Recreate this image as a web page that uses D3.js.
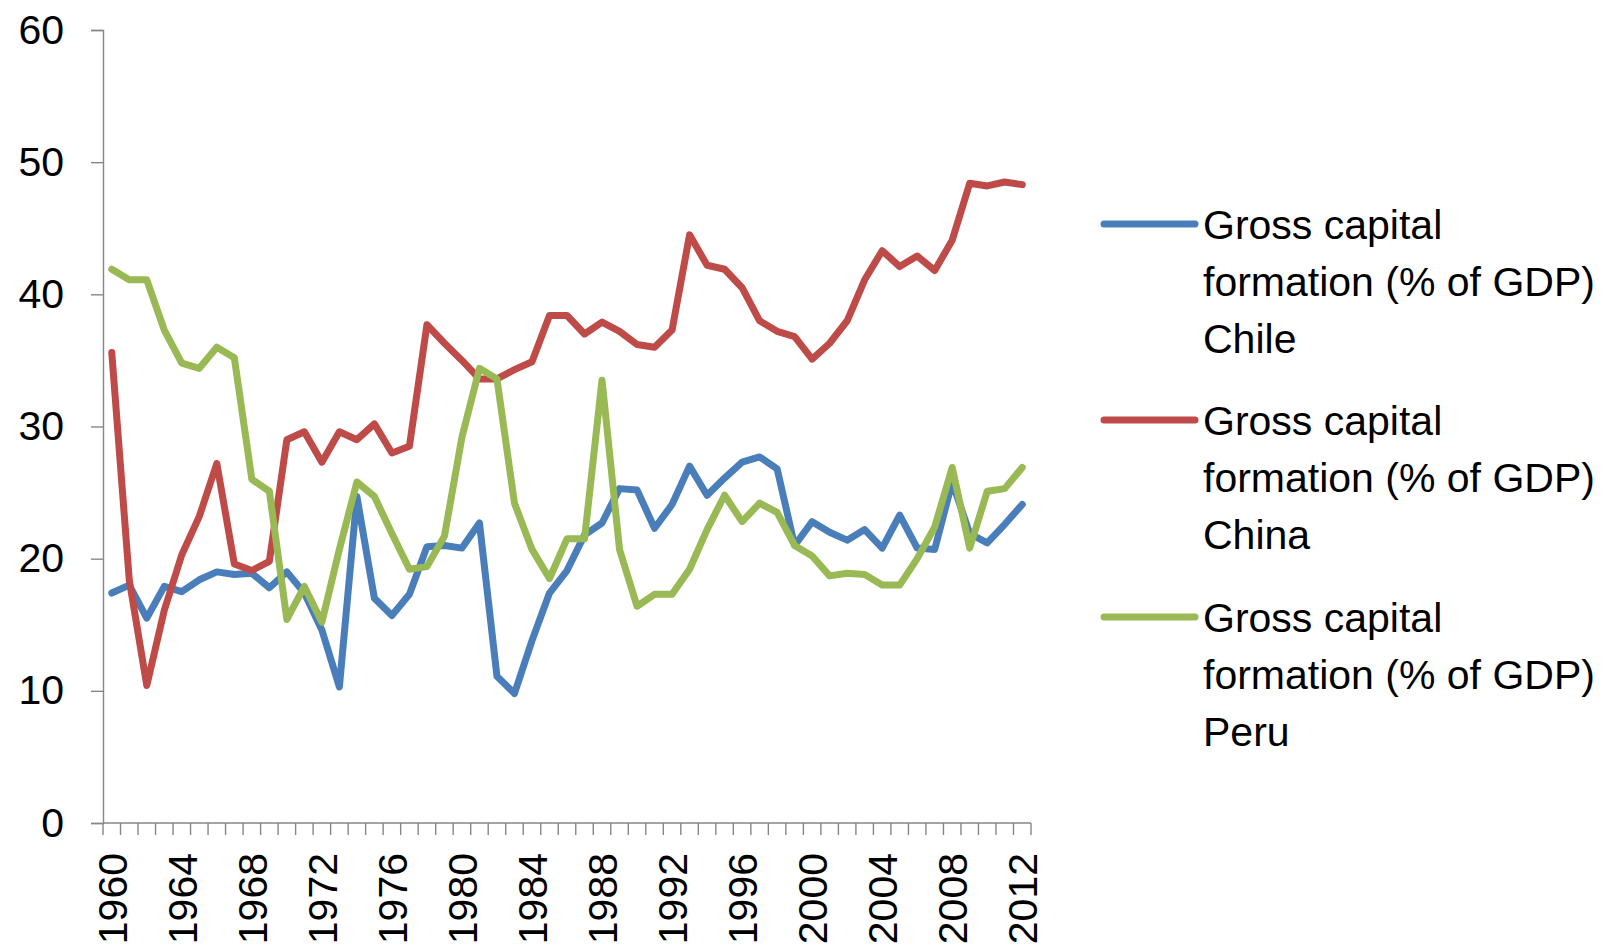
<!DOCTYPE html>
<html>
<head>
<meta charset="utf-8">
<script src="https://cdn.jsdelivr.net/npm/d3@7"></script>
<style>
  html, body { margin: 0; padding: 0; background: #fff; }
  svg text { font-family: "Liberation Sans", Arial, sans-serif; fill: #000; }
</style>
</head>
<body>
<svg id="chart" width="1619" height="947"></svg>
<script>
const years = d3.range(1960, 2013);
const yTicks = [0, 10, 20, 30, 40, 50, 60];
const xTickLabels = [1960, 1964, 1968, 1972, 1976, 1980, 1984, 1988, 1992, 1996, 2000, 2004, 2008, 2012];

const chile = [17.4, 18.0, 15.5, 17.9, 17.5, 18.4, 19.0, 18.8, 18.9, 17.8,
  19.0, 17.4, 14.6, 10.3, 24.7, 17.0, 15.7, 17.3, 20.9, 21.0,
  20.8, 22.7, 11.1, 9.8, 13.8, 17.4, 19.1, 21.8, 22.7, 25.3,
  25.2, 22.3, 24.1, 27.0, 24.8, 26.1, 27.3, 27.7, 26.8, 21.0,
  22.8, 22.0, 21.4, 22.2, 20.8, 23.3, 20.8, 20.7, 25.8, 21.9,
  21.2, 22.6, 24.1];
const china = [35.6, 18.4, 10.4, 16.1, 20.3, 23.2, 27.2, 19.6, 19.1, 19.8,
  29.0, 29.6, 27.3, 29.6, 29.0, 30.2, 28.0, 28.5, 37.7, 36.3,
  35.0, 33.6, 33.6, 34.3, 34.9, 38.4, 38.4, 37.0, 37.9, 37.2,
  36.2, 36.0, 37.3, 44.5, 42.2, 41.9, 40.5, 38.0, 37.2, 36.8,
  35.1, 36.3, 38.0, 41.1, 43.3, 42.1, 42.9, 41.8, 44.1, 48.4,
  48.2, 48.5, 48.3];
const peru = [41.9, 41.1, 41.1, 37.3, 34.8, 34.4, 36.0, 35.2, 26.0, 25.1,
  15.4, 17.9, 15.2, 20.7, 25.8, 24.7, 21.9, 19.2, 19.4, 21.7,
  29.2, 34.4, 33.6, 24.2, 20.7, 18.5, 21.5, 21.5, 33.5, 20.7,
  16.4, 17.3, 17.3, 19.2, 22.2, 24.8, 22.8, 24.2, 23.5, 21.0,
  20.2, 18.7, 18.9, 18.8, 18.0, 18.0, 20.0, 22.4, 26.9, 20.8,
  25.1, 25.3, 26.9];

const seriesNames = ["Chile", "China", "Peru"];
const seriesColors = ["#4A7EBB", "#BE4B48", "#98B954"];
const seriesValues = [chile, china, peru];
const legendLines = ["Gross capital", "formation (% of GDP)"];

const svg = d3.select("#chart");
svg.append("rect").attr("width", 1619).attr("height", 947).attr("fill", "#fff");

const plot = { left: 103, right: 1031, top: 30, bottom: 823 };
const axisColor = "#868686";
const fontSize = 41;

const x = d3.scaleBand().domain(years).range([plot.left, plot.right]).padding(0);
const y = d3.scaleLinear().domain([0, 60]).range([plot.bottom, plot.top]);

// Y axis
const yAxis = d3.axisLeft(y).tickValues(yTicks).tickSize(12).tickPadding(27);
const gy = svg.append("g").attr("transform", `translate(${plot.left},0)`).call(yAxis);
gy.select(".domain").attr("stroke", axisColor).attr("stroke-width", 1.4);
gy.selectAll(".tick line").attr("stroke", axisColor).attr("stroke-width", 1.4);
gy.selectAll(".tick text").attr("font-size", fontSize).attr("font-family", "Liberation Sans").attr("fill", "#000");

// X axis: ticks between categories
const gx = svg.append("g").attr("transform", `translate(0,${plot.bottom})`);
gx.append("line").attr("x1", plot.left).attr("x2", plot.right).attr("y1", 0).attr("y2", 0)
  .attr("stroke", axisColor).attr("stroke-width", 1.4);
const boundaries = years.map(yr => x(yr)).concat([plot.right]);
gx.selectAll("line.tick").data(boundaries).enter().append("line")
  .attr("class", "tick")
  .attr("x1", d => d).attr("x2", d => d).attr("y1", 0).attr("y2", 12)
  .attr("stroke", axisColor).attr("stroke-width", 1.4);
gx.selectAll("text.lbl").data(xTickLabels).enter().append("text")
  .attr("class", "lbl")
  .attr("transform", d => `translate(${x(d) + x.bandwidth() / 2},30) rotate(-90)`)
  .attr("text-anchor", "end")
  .attr("dy", "0.36em")
  .attr("font-size", fontSize)
  .text(d => d);

// Lines
const line = d3.line()
  .x((d, i) => x(years[i]) + x.bandwidth() / 2)
  .y(d => y(d));

seriesValues.forEach((vals, k) => {
  svg.append("path")
    .datum(vals)
    .attr("fill", "none")
    .attr("stroke", seriesColors[k])
    .attr("stroke-width", 7)
    .attr("stroke-linejoin", "round")
    .attr("stroke-linecap", "round")
    .attr("d", line);
});

// Legend
const legendTop = [224, 420, 617];
const lineGap = 57;
seriesNames.forEach((name, k) => {
  const g = svg.append("g").attr("transform", `translate(0,${legendTop[k]})`);
  g.append("line").attr("x1", 1104).attr("x2", 1195).attr("y1", 0).attr("y2", 0)
    .attr("stroke", seriesColors[k]).attr("stroke-width", 7).attr("stroke-linecap", "round");
  const texts = legendLines.concat([name]);
  texts.forEach((t, j) => {
    g.append("text").attr("x", 1203).attr("y", j * lineGap).attr("dy", "0.36em")
      .attr("font-size", fontSize).text(t);
  });
});
</script>
</body>
</html>
